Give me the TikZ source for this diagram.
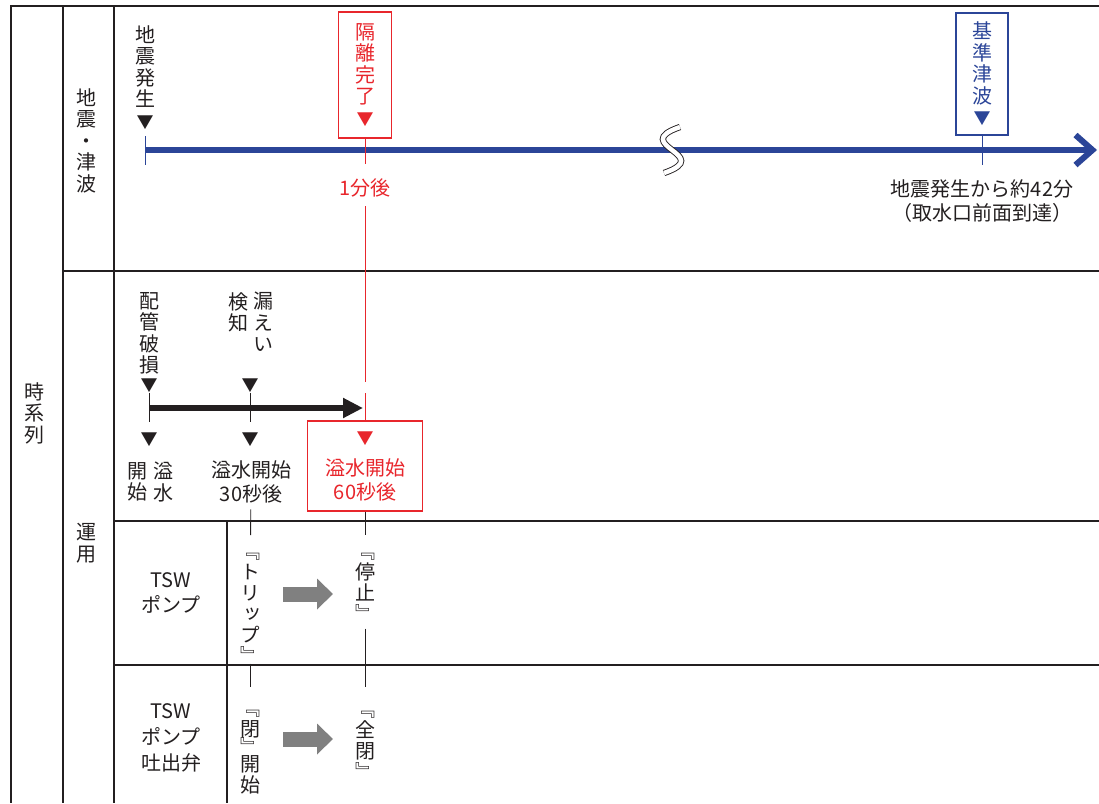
\documentclass[tikz,border=0pt]{standalone}
\usepackage{fontspec}
\setmainfont{Noto Sans CJK JP}
\newfontfamily\tatefont[RawFeature=+vert]{Noto Sans CJK JP}
\definecolor{TLred}{HTML}{E8262C}
\definecolor{TLblue}{HTML}{2B4598}
\definecolor{TLink}{HTML}{231F20}
\definecolor{TLgray}{HTML}{808080}
\usetikzlibrary{arrows.meta, positioning}
\newcommand{\tri}{{\fontsize{17}{17}\selectfont ▼}}

\begin{document}
\begin{tikzpicture}[x=1pt, y=-1pt,
  every node/.style={inner sep=0pt, text=TLink},
  tate/.style={align=center, anchor=north, font=\tatefont\fontsize{20}{21.5}\selectfont},
  kakko/.style={align=center, anchor=north, font=\tatefont\fontsize{20}{21}\selectfont},
  yoko/.style={align=center, font=\fontsize{20}{24}\selectfont},
  tri/.style={font=\fontsize{17}{17}\selectfont},
  redbox/.style={draw=TLred, line width=1.1pt, text=TLred},
  bluebox/.style={draw=TLblue, line width=1.1pt, text=TLblue},
  grid/.style={line width=1.3pt, draw=TLink},
  hair/.style={line width=0.9pt, draw=TLink},
  rline/.style={line width=0.9pt, draw=TLred},
  btick/.style={line width=0.9pt, draw=TLblue},
  tline/.style={line width=6pt, draw=TLblue, -{Straight Barb[length=17pt, width=30pt]}},
  karr/.style={line width=5.5pt, draw=TLink, -{Triangle[length=20pt, width=19pt]}},
  garr/.style={line width=15pt, draw=TLgray, -{Triangle[length=16pt, width=30pt]}}
]
\useasboundingbox (0,0) rectangle (1099,803);

% table
\draw[grid] (1099,6) -- (11,6) -- (11,803);
\draw[grid] (63,6) -- (63,803);
\draw[grid] (114,6) -- (114,803);
\draw[grid] (63,271) -- (1099,271);
\draw[grid] (114,521) -- (1099,521);
\draw[grid] (114,665) -- (1099,665);
\draw[grid] (227,521) -- (227,803);

\node[tate] (series) at (34,382) {時\\系\\列};
\node[tate] (quakelbl) at (86,88) {地\\震\\・\\津\\波};
\node[tate] (oplbl) at (86,523) {運\\用};

% earthquake and tsunami
\node[tate] (quake) at (145,25) {地\\震\\発\\生\\\tri};
\node[tate, redbox, anchor=center, minimum width=53pt, minimum height=126pt]
  (isol) at (365,75) {隔\\離\\完\\了\\\tri};
\node[tate, bluebox, anchor=center, minimum width=52pt, minimum height=122pt]
  (tsu) at (982,74) {基\\準\\津\\波\\\tri};
\coordinate (t0) at (145,150);
\coordinate (tend) at (1097,150);
\coordinate (tsutick) at (982,165);
\draw[tline] (t0) -- (tend);
\draw[btick] ([yshift=14pt]t0) -- ([yshift=-15pt]t0);
\draw[btick] (tsu) -- (tsutick);
\draw[double=white, double distance=4.5pt, line width=0.9pt, TLink]
  (680,127) .. controls (628,145) and (716,155) .. (664,173);
\node[yoko, text=TLred] (min1) at (365,188) {1分後};
\node[yoko] (arrive) at (982,201) {地震発生から約42分\\（取水口前面到達）};

% pipe break
\node[tate] (pipe) at (149,292) {配\\管\\破\\損};
\node[tate] (leakA) at (263,292) {漏\\え\\い};
\node[tate] (leakB) at (238,292) {検\\知};
\node[tri] (pipetri) at (149,385.5) {▼};
\node[tri] (leaktri) at (250,385.5) {▼};
\node[tri] (spilltri) at (149,440) {▼};
\node[tri] (d30tri) at (250,440) {▼};
\node[tate] (spillA) at (163,462) {溢\\水};
\node[tate] (spillB) at (137,462) {開\\始};
\node[yoko] (d30) at (251,482) {溢水開始\\30秒後};
\node[yoko, redbox, minimum width=115pt, minimum height=90pt]
  (box60) at (365,466) {\tri\\[7pt]溢水開始\\60秒後};
\coordinate (k0) at (149,408);
\coordinate (k1) at (363,408);
\draw[karr] (k0) -- (k1);
\draw[hair, shorten >=11pt] (pipetri) -- (spilltri);
\draw[hair, shorten >=11pt] (leaktri) -- (d30tri);

\coordinate (rgap1) at (365,382);
\coordinate (rgap2) at (365,393);
\draw[rline, shorten >=15pt] (isol) -- (min1);
\draw[rline, shorten <=9pt] (min1) -- (rgap1);
\draw[rline] (rgap2) -- (box60);

% pump and valve
\node[yoko, font=\fontsize{20}{25}\selectfont] (pump) at (171,593) {TSW\\ポンプ};
\node[yoko, font=\fontsize{20}{26}\selectfont] (valve) at (171,738) {TSW\\ポンプ\\吐出弁};
\node[kakko] (trip) at (250,553) {﹃\\ト\\リ\\ッ\\プ\\﹄};
\node[kakko] (close) at (250,710) {﹃\\閉\\[-3pt]﹄\\[-4pt]開\\始};
\node[kakko] (stop) at (365,553) {﹃\\停\\止\\﹄};
\node[kakko] (fullclose) at (365,711) {﹃\\全\\閉\\﹄};
\draw[hair, shorten <=6pt, shorten >=18pt] (d30) -- (trip);
\draw[hair, shorten >=18pt] (box60) -- (stop);
\draw[hair, shorten >=23pt] (trip) -- (close);
\draw[hair, shorten <=7pt, shorten >=24pt] (stop) -- (fullclose);
\coordinate (g1a) at (283,594);
\coordinate (g1b) at (333,594);
\coordinate (g2a) at (283,739);
\coordinate (g2b) at (333,739);
\draw[garr] (g1a) -- (g1b);
\draw[garr] (g2a) -- (g2b);
\end{tikzpicture}
\end{document}
